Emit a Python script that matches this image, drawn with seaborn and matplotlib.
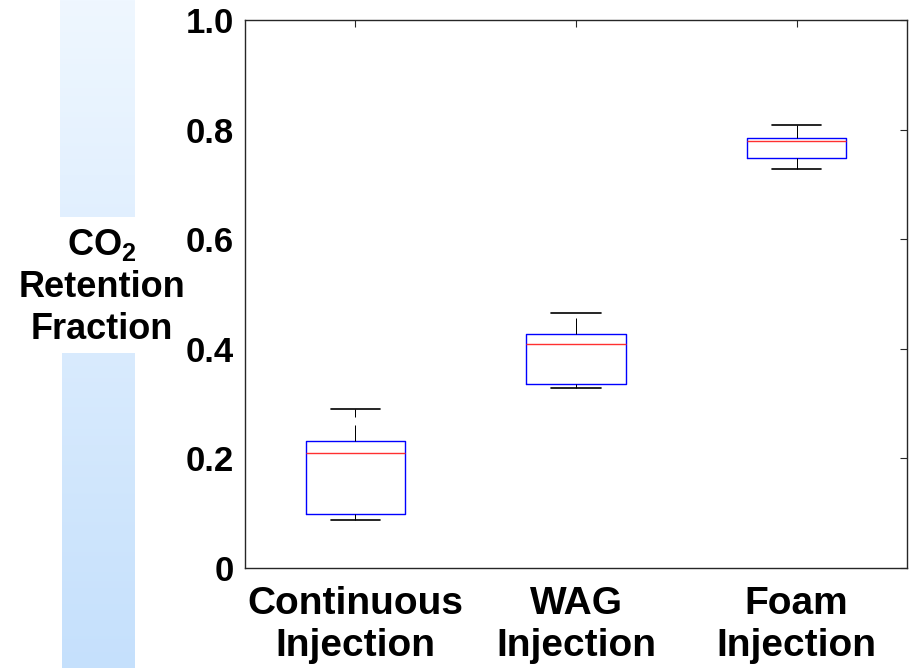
import numpy as np
import pandas as pd
import matplotlib
matplotlib.use("Agg")
import matplotlib.pyplot as plt
import seaborn as sns

# five-number summaries (whisker low, q1, median, q3, whisker high)
groups = ["Continuous\nInjection", "WAG\nInjection", "Foam\nInjection"]
continuous = [0.088, 0.099, 0.209, 0.232, 0.290]
wag = [0.329, 0.336, 0.409, 0.427, 0.466]
foam = [0.729, 0.749, 0.779, 0.785, 0.808]
y_ticks = [0, 0.2, 0.4, 0.6, 0.8, 1.0]
y_ticklabels = ["0", "0.2", "0.4", "0.6", "0.8", "1.0"]

df = pd.DataFrame({
    "method": np.repeat(groups, 5),
    "fraction": continuous + wag + foam,
})

sns.set_style("white")
plt.rcParams["font.family"] = ["Liberation Sans", "DejaVu Sans"]
plt.rcParams["font.weight"] = "bold"
plt.rcParams["text.color"] = "black"
plt.rcParams["xtick.labelcolor"] = "black"
plt.rcParams["ytick.labelcolor"] = "black"
plt.rcParams["mathtext.fontset"] = "custom"
plt.rcParams["mathtext.rm"] = "Liberation Sans:bold"
plt.rcParams["mathtext.bf"] = "Liberation Sans:bold"

fig = plt.figure(figsize=(9.11, 6.68), dpi=100)

# light blue gradient strip behind the y label
bg = fig.add_axes([0, 0, 1, 1], zorder=-1)
bg.set_xlim(0, 911)
bg.set_ylim(668, 0)
bg.axis("off")
top_c = np.array([239, 247, 255]) / 255
bot_c = np.array([197, 224, 252]) / 255
t = np.linspace(0, 1, 668)[:, None]
grad = top_c * (1 - t[..., None]) + bot_c * t[..., None]
bg.imshow(grad[0:217], extent=(60, 135, 217, 0), aspect="auto")
bg.imshow(grad[353:668], extent=(62, 135, 668, 353), aspect="auto")

ax = fig.add_axes([245 / 911, 1 - 568 / 668, 662 / 911, 548 / 668])
sns.boxplot(
    data=df, x="method", y="fraction", ax=ax,
    fill=False, width=0.45, whis=np.inf, linewidth=1,
    boxprops=dict(color="blue", linewidth=1),
    medianprops=dict(color="#ff3030", linewidth=1),
    whiskerprops=dict(color="black", linewidth=0.72, linestyle=(0, (16, 8))),
    capprops=dict(color="black", linewidth=1.2),
)

ax.set_xlim(-0.5, 2.5)
ax.set_ylim(0, 1)
ax.set_yticks(y_ticks)
ax.set_yticklabels(y_ticklabels)
ax.set_xlabel("")
ax.set_ylabel("")
ax.tick_params(direction="in", top=True, right=True, length=5, width=0.8,
               color="#262626", labelcolor="black")
ax.tick_params(axis="y", labelsize=25, pad=8)
ax.tick_params(axis="x", labelsize=28, pad=13)
for lab in ax.get_xticklabels() + ax.get_yticklabels():
    lab.set_fontweight("bold")
    lab.set_color("black")
for s in ax.spines.values():
    s.set_visible(True)
    s.set_color("#262626")
    s.set_linewidth(1.0)

fig.text(102 / 911, 1 - 287 / 668, "$\\mathbf{CO_2}$\nRetention\nFraction",
         ha="center", va="center", multialignment="center",
         fontsize=26, fontweight="bold", linespacing=1.25, color="black")

fig.savefig("out.png", dpi=100)
